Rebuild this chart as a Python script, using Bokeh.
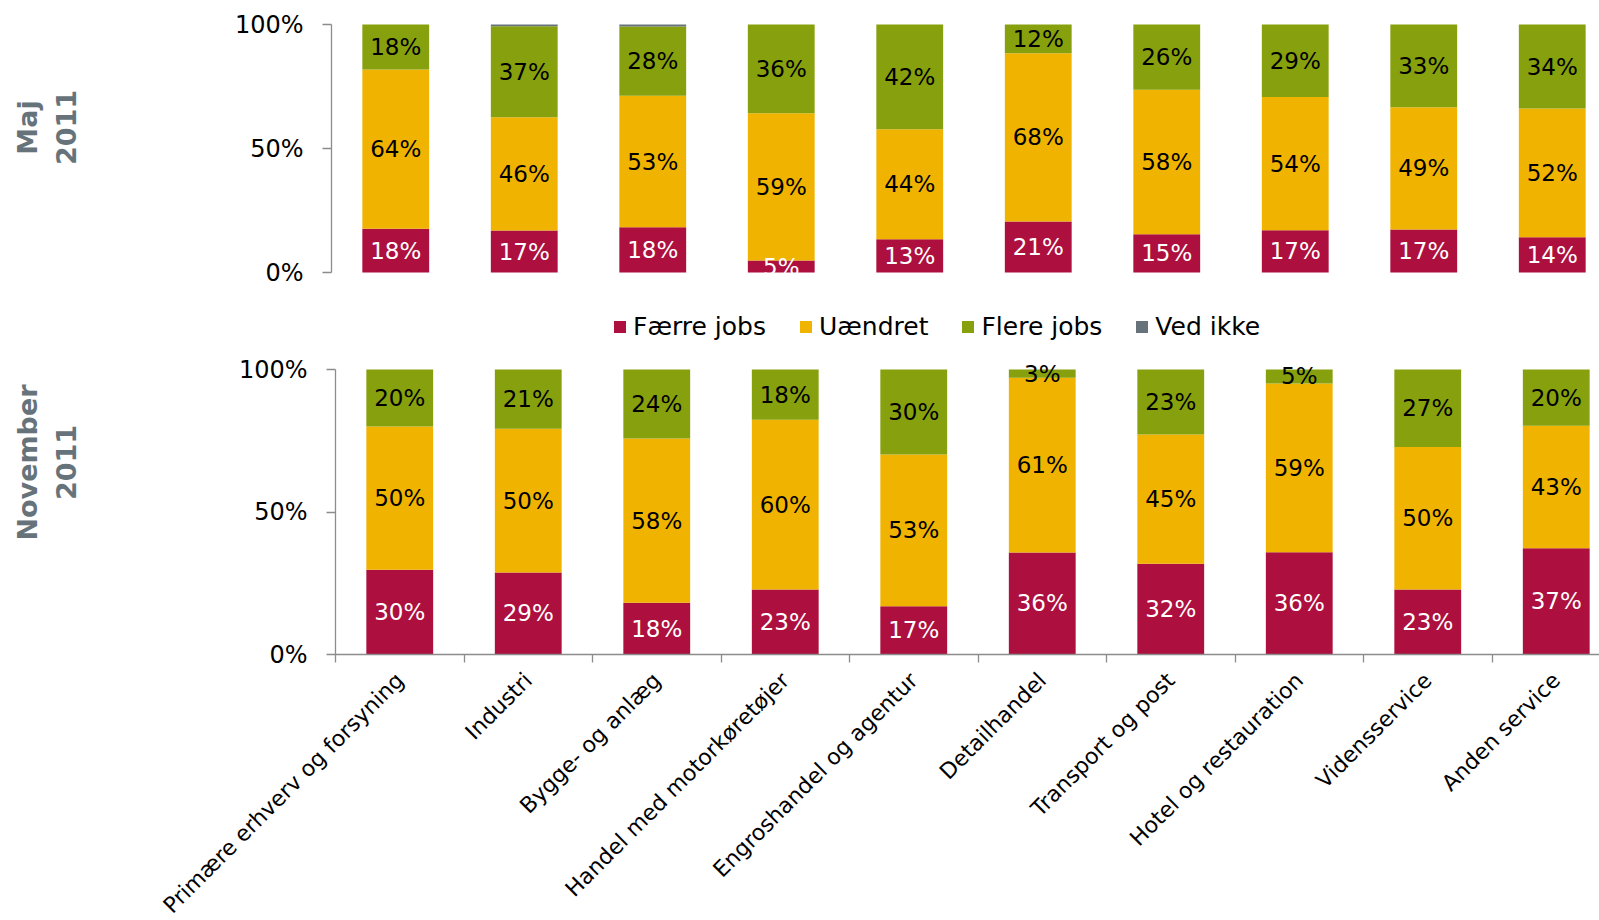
import math
from bokeh.plotting import figure
from bokeh.models import (ColumnDataSource, FixedTicker, PrintfTickFormatter, Legend,
                          LegendItem, Range1d)
from bokeh.layouts import column
from bokeh.embed import file_html
from bokeh.resources import INLINE
from bokeh.core.properties import value

# ---------------- data ----------------
categories = ["Primære erhverv og forsyning", "Industri", "Bygge- og anlæg",
              "Handel med motorkøretøjer", "Engroshandel og agentur", "Detailhandel",
              "Transport og post", "Hotel og restauration", "Vidensservice", "Anden service"]
series = ["Færre jobs", "Uændret", "Flere jobs", "Ved ikke"]

faerre_maj = [17.6, 16.9, 18.2, 4.8, 13.4, 20.6, 15.4, 17.0, 17.3, 14.2]
uaendret_maj = [64.3, 45.7, 53.1, 59.4, 44.4, 67.8, 58.3, 53.8, 49.3, 51.9]
flere_maj = [18.1, 36.7, 27.9, 35.8, 42.2, 11.6, 26.3, 29.2, 33.4, 33.9]
vedikke_maj = [0.0, 0.7, 0.8, 0.0, 0.0, 0.0, 0.0, 0.0, 0.0, 0.0]

faerre_nov = [29.7, 28.8, 18.2, 22.8, 16.9, 35.8, 31.8, 35.9, 22.8, 37.3]
uaendret_nov = [50.3, 50.4, 57.6, 59.6, 53.3, 61.3, 45.4, 59.2, 50.0, 43.0]
flere_nov = [20.0, 20.8, 24.2, 17.6, 29.8, 2.9, 22.8, 4.9, 27.2, 19.7]
vedikke_nov = [0.0, 0.0, 0.0, 0.0, 0.0, 0.0, 0.0, 0.0, 0.0, 0.0]

y_ticks = [0, 50, 100]
title_lines_maj = ["Maj", "2011"]
title_lines_nov = ["November", "2011"]

# ---------------- style / layout constants ----------------
colors = ["#ad0f3e", "#f0b400", "#87a00d", "#66737b"]
label_colors = ["white", "black", "black"]
axis_color = "#8c8c8c"
FONT = "DejaVu Sans"
TITLE_COLOR = "#67737b"
BAR_W = 0.52
PX_PER_CAT = 128.5
keys = ["faerre", "uaendret", "flere", "vedikke"]
W = 1599
TITLE_LINE_X = [27, 65]      # pixel centres of the two title lines


def make_sources(vals):
    n = len(categories)
    data = {"x": list(range(n))}
    for k, v in zip(keys, vals):
        data[k] = v
    src = ColumnDataSource(data)
    lx, ly, lt, lc = [], [], [], []
    for i in range(n):
        base = 0.0
        for s in range(3):
            v = vals[s][i]
            lx.append(i)
            ly.append(base + v / 2.0)
            lt.append(f"{round(v)}%")
            lc.append(label_colors[s])
            base += v
    lab = ColumnDataSource(dict(x=lx, y=ly, text=lt, color=lc))
    return src, lab


def make_panel(H, axis_px, zero_px, hundred_px, show_x):
    """Figure whose frame fills the whole canvas; axes are pinned inside it."""
    ppp = (zero_px - hundred_px) / 100.0          # pixels per percent
    x0 = -0.5 - axis_px / PX_PER_CAT
    xr = Range1d(x0, x0 + W / PX_PER_CAT)
    yr = Range1d((zero_px - H) / ppp, zero_px / ppp)
    p = figure(width=W, height=H, x_range=xr, y_range=yr, output_backend="svg",
               toolbar_location=None, x_axis_location="below" if show_x else None,
               min_border_left=0, min_border_right=0, min_border_top=0, min_border_bottom=0)
    p.outline_line_color = None
    p.xgrid.visible = False
    p.ygrid.visible = False
    ya = p.yaxis[0]
    ya.fixed_location = -0.5
    ya.ticker = FixedTicker(ticks=y_ticks, minor_ticks=[])
    ya.formatter = PrintfTickFormatter(format="%d%%")
    ya.bounds = (0, 100)
    ya.axis_line_color = axis_color
    ya.axis_line_width = 1.3
    ya.major_tick_line_color = axis_color
    ya.major_tick_line_width = 1.3
    ya.major_tick_in = 0
    ya.major_tick_out = 9
    ya.minor_tick_line_color = None
    ya.major_label_standoff = 19
    ya.major_label_text_font = FONT
    ya.major_label_text_font_size = "24px"
    ya.major_label_text_color = "black"
    to_x = lambda px: x0 + px / PX_PER_CAT
    to_y = lambda py: (zero_px - py) / ppp
    return p, to_x, to_y


def add_bars(p, src, lab):
    rs = p.vbar_stack(keys, x="x", width=BAR_W, color=colors, line_color=None, source=src)
    p.text(x="x", y="y", text="text", text_color="color", source=lab,
           text_font=value(FONT), text_font_size=value("23px"),
           text_align="center", text_baseline="middle")
    return rs


def add_title(p, to_x, to_y, lines, yc_px):
    p.text(x=[to_x(px) for px in TITLE_LINE_X], y=[to_y(yc_px)] * len(lines), text=lines,
           angle=math.pi / 2, text_align="center", text_baseline="middle",
           text_font=value(FONT), text_font_style="bold", text_font_size=value("27px"),
           text_color=TITLE_COLOR)


# ---------------- top panel (Maj 2011) + legend ----------------
H1 = 352
top, tx1, ty1 = make_panel(H1, axis_px=331, zero_px=272, hundred_px=24, show_x=False)
src1, lab1 = make_sources([faerre_maj, uaendret_maj, flere_maj, vedikke_maj])
rs1 = add_bars(top, src1, lab1)
add_title(top, tx1, ty1, title_lines_maj, 127)

legend = Legend(items=[LegendItem(label=s, renderers=[r]) for s, r in zip(series, rs1)],
                orientation="horizontal", location=(612, 11),
                padding=0, margin=0, spacing=32, label_standoff=6,
                glyph_width=15, glyph_height=15,
                label_text_font=FONT, label_text_font_size="25px",
                label_text_color="black", border_line_color=None,
                background_fill_alpha=0)
top.add_layout(legend)

# ---------------- bottom panel (November 2011) ----------------
H2 = 920 - H1
bot, tx2, ty2 = make_panel(H2, axis_px=335, zero_px=654 - H1, hundred_px=369 - H1,
                           show_x=True)
src2, lab2 = make_sources([faerre_nov, uaendret_nov, flere_nov, vedikke_nov])
add_bars(bot, src2, lab2)
add_title(bot, tx2, ty2, title_lines_nov, 462 - H1)

xa = bot.xaxis[0]
n = len(categories)
xa.fixed_location = 0
xa.bounds = (-0.5, bot.x_range.end)
xa.ticker = FixedTicker(ticks=list(range(n)), minor_ticks=[i - 0.5 for i in range(n + 1)])
xa.major_label_overrides = {i: c for i, c in enumerate(categories)}
xa.major_label_orientation = math.pi / 4
xa.axis_line_color = axis_color
xa.axis_line_width = 1.3
xa.major_tick_line_color = None
xa.major_tick_in = 0
xa.major_tick_out = 8
xa.minor_tick_line_color = axis_color
xa.minor_tick_line_width = 1.3
xa.minor_tick_in = 0
xa.minor_tick_out = 8
xa.major_label_standoff = 14
xa.major_label_text_font = FONT
xa.major_label_text_font_size = "22px"
xa.major_label_text_color = "black"

layout = column(top, bot)
open("out.html", "w").write(file_html(layout, INLINE))
